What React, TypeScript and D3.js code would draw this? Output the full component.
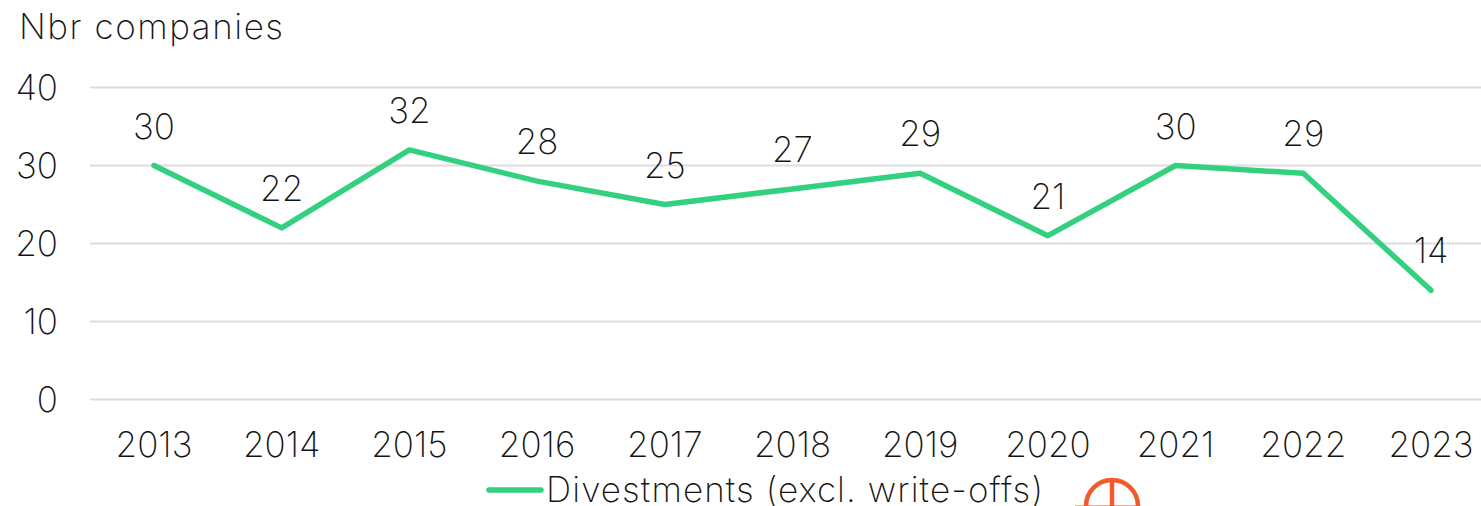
import React from "react";
import * as d3 from "d3";

const years = ["2013","2014","2015","2016","2017","2018","2019","2020","2021","2022","2023"];
const values = [30,22,32,28,25,27,29,21,30,29,14];
const yTicks = [0,10,20,30,40];
const seriesName = "Divestments (excl. write-offs)";
const yTitle = "Nbr companies";
const font = "Inter, Lato, sans-serif";
const green = "#33d17f";
const orange = "#f15a2b";
const ink = "#141414";

export default function App() {
  const x = d3.scalePoint<string>().domain(years).range([154, 1431]);
  const y = d3.scaleLinear().domain([0, 40]).range([399.5, 87.5]);
  const line = d3.line<number>().x((_, i) => x(years[i])!).y(d => y(d));
  const common = { fontSize: 35, fontWeight: 250 };
  return (
    <svg width={1481} height={506} style={{ position: "fixed", left: 0, top: 0, background: "#fff" }} fontFamily={font} fill={ink}>
      <text x={19} y={39} {...common} textLength={264} lengthAdjust="spacing">{yTitle}</text>
      {yTicks.map(t => (
        <g key={t}>
          <line x1={90} x2={1481} y1={y(t)} y2={y(t)} stroke="#dddddd" strokeWidth={2} />
          <text x={58} y={y(t) + 12} {...common} textAnchor="end">{t}</text>
        </g>
      ))}
      <path d={line(values)!} fill="none" stroke={green} strokeWidth={5.5} strokeLinejoin="round" strokeLinecap="round" />
      {values.map((v, i) => (
        <text key={i} x={x(years[i])} y={y(v) - 27} {...common} textAnchor="middle">{v}</text>
      ))}
      {years.map(yr => (
        <text key={yr} x={x(yr)} y={457} {...common} textAnchor="middle">{yr}</text>
      ))}
      <line x1={489} x2={541} y1={490} y2={490} stroke={green} strokeWidth={5.5} strokeLinecap="round" />
      <text x={546} y={502} {...common} textLength={497} lengthAdjust="spacing">{seriesName}</text>
      <g fill="none" stroke={orange} strokeWidth={4.5}>
        <path d="M1086 506 A26 26 0 0 1 1138 506" />
        <line x1={1112} x2={1112} y1={480} y2={506} />
        <path d="M1075 507 L1140 507" strokeWidth={3} />
      </g>
    </svg>
  );
}
